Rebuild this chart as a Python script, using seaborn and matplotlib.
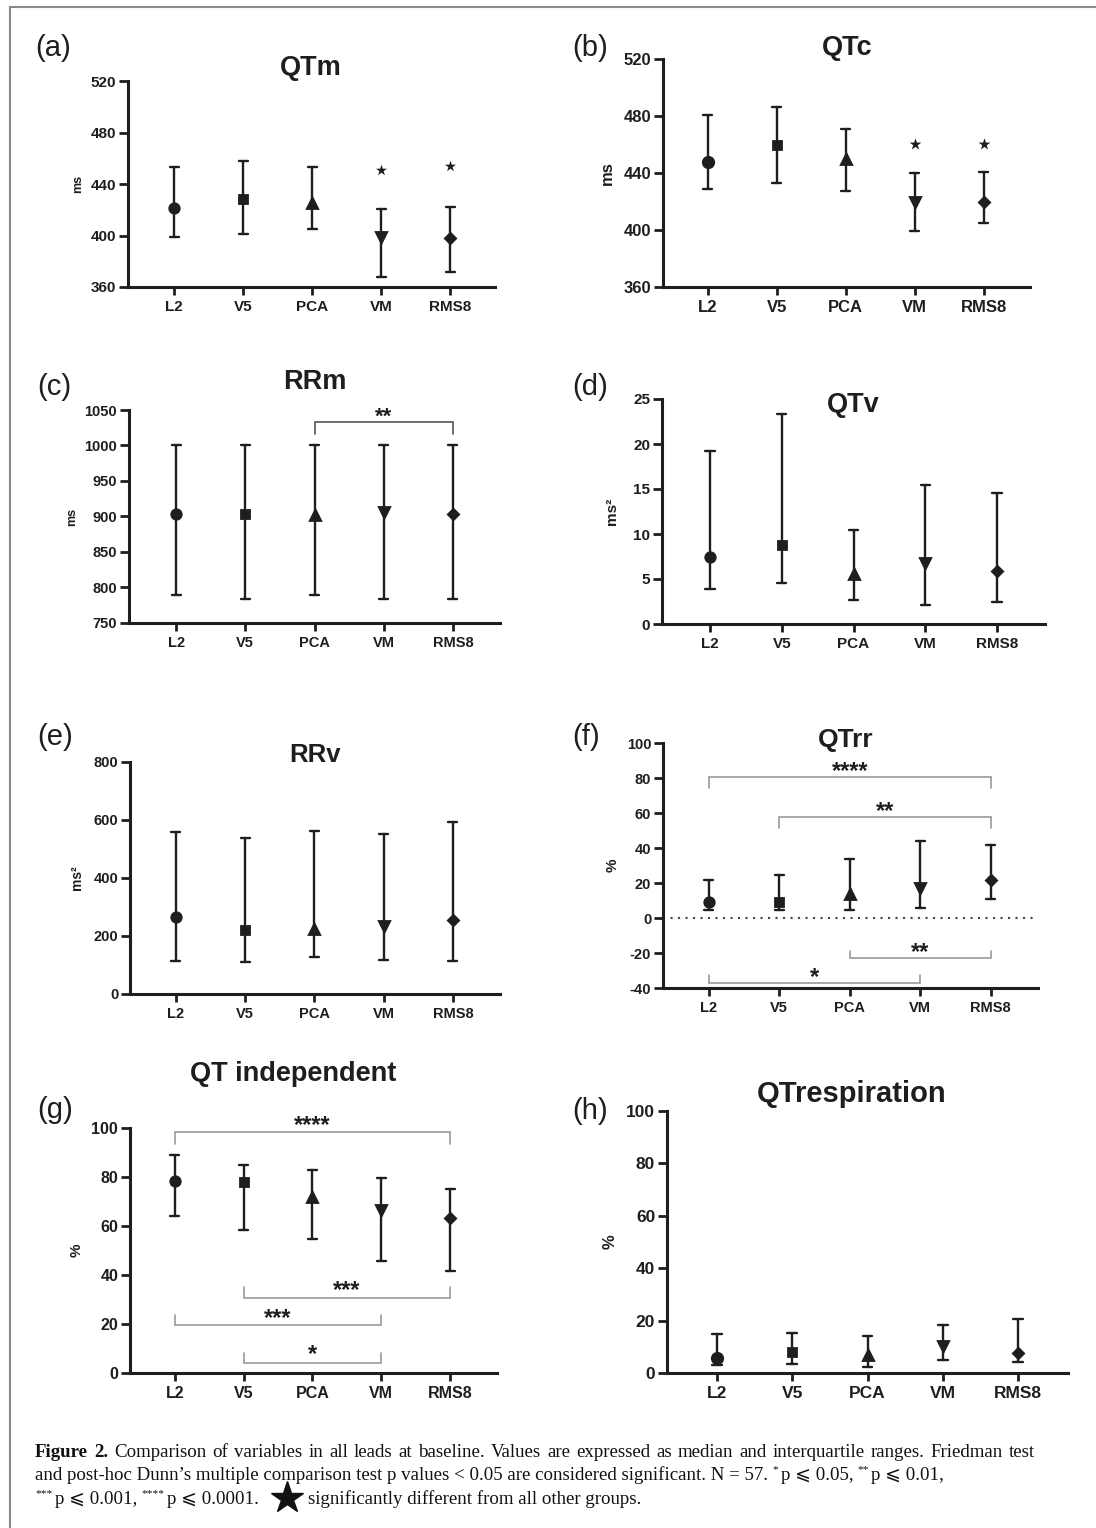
import numpy as np
import pandas as pd
import matplotlib
matplotlib.use("Agg")
import matplotlib.pyplot as plt
from matplotlib.lines import Line2D
import seaborn as sns

# ---------------------------------------------------------------- data
leads = ["L2", "V5", "PCA", "VM", "RMS8"]
lead_markers = ["o", "s", "^", "v", "D"]

qtm_median = [421.5, 428, 425, 398.5, 398]
qtm_q1 = [399, 401.5, 405, 368, 372]
qtm_q3 = [453, 458, 453, 420.5, 422.5]
qtm_star = [451, 454]          # VM, RMS8

qtc_median = [448, 460, 449.5, 419.5, 420]
qtc_q1 = [429, 433, 427.5, 399.5, 405]
qtc_q3 = [480.5, 486.5, 471, 440, 440.5]
qtc_star = [460.5, 460.5]      # VM, RMS8

rrm_median = [904, 903, 902, 906, 904]
rrm_q1 = [789, 784, 790, 784, 784]
rrm_q3 = [1000, 1000, 1000, 1000, 1000]

qtv_median = [7.4, 8.75, 5.6, 6.75, 5.9]
qtv_q1 = [3.9, 4.6, 2.7, 2.1, 2.4]
qtv_q3 = [19.25, 23.3, 10.4, 15.4, 14.6]

rrv_median = [265, 219, 224, 236, 256]
rrv_q1 = [113, 110, 128, 118, 115]
rrv_q3 = [560, 538, 561, 553, 592]

qtrr_median = [9, 9, 14, 17, 21.5]
qtrr_q1 = [4.5, 4.5, 4.5, 5.5, 11]
qtrr_q3 = [22, 24.5, 34, 44, 42]

qtind_median = [78.5, 78, 71.7, 66.5, 63.4]
qtind_q1 = [64.2, 58.4, 54.7, 45.7, 41.8]
qtind_q3 = [88.9, 84.9, 82.9, 79.5, 75]

qtresp_median = [5.7, 7.9, 7.0, 10.4, 7.5]
qtresp_q1 = [3.2, 3.6, 2.3, 4.8, 4.3]
qtresp_q3 = [14.9, 15.2, 14.2, 18.3, 20.8]

# pairwise comparisons: (lead a, lead b, significance)
rrm_pairs = [("PCA", "RMS8", "**")]
qtrr_pairs_top = [("L2", "RMS8", "****"), ("V5", "RMS8", "**")]
qtrr_pairs_bottom = [("PCA", "RMS8", "**"), ("L2", "VM", "*")]
qtind_pairs_top = [("L2", "RMS8", "****")]
qtind_pairs_bottom = [("V5", "RMS8", "***"), ("L2", "VM", "***"), ("V5", "VM", "*")]

# ---------------------------------------------------------------- style
sns.set_style("ticks")
plt.rcParams["font.family"] = ["Liberation Sans", "DejaVu Sans"]
plt.rcParams["axes.unicode_minus"] = False
INK = "#1e1e1e"
GREY = "#9a9a9a"
MARKER_SIZE = {"o": 6.8, "s": 5.8, "^": 6.8, "v": 6.8, "D": 4.6}

W, H = 1096, 1528
fig = plt.figure(figsize=(W / 100, H / 100), dpi=100)
fig.patch.set_facecolor("white")


def fx(x):
    return x / W


def fy(y):
    return 1 - y / H


def rect(left, top, right, bottom):
    return [fx(left), fy(bottom), (right - left) / W, (bottom - top) / H]


def draw_panel(box, xlim, ylim, yticks, med, q1, q3, tick_fs, scale=1.0):
    ax = fig.add_axes(rect(*box))
    df = pd.DataFrame({
        "lead": np.repeat(leads, 3),
        "value": np.column_stack([q1, med, q3]).ravel(),
    })
    sns.pointplot(
        data=df, x="lead", y="value", hue="lead",
        order=leads, hue_order=leads,
        palette=dict.fromkeys(leads, INK), markers=lead_markers,
        linestyles="none", estimator="median", errorbar=("pi", 100),
        capsize=0.13, err_kws={"linewidth": 1.7}, markersize=7,
        legend=False, ax=ax,
    )
    # per-shape marker sizes so the glyphs look equally heavy
    for line in ax.lines:
        m = line.get_marker()
        if isinstance(m, str) and m in MARKER_SIZE:
            line.set_markersize(MARKER_SIZE[m] * scale)
            line.set_zorder(4)
    ax.set_xlim(*xlim)
    ax.set_ylim(*ylim)
    ax.set_yticks(yticks)
    ax.set_xlabel("")
    ax.set_ylabel("")
    for side in ("top", "right"):
        ax.spines[side].set_visible(False)
    for side in ("left", "bottom"):
        ax.spines[side].set_linewidth(2.2)
        ax.spines[side].set_color(INK)
    ax.tick_params(axis="y", direction="out", length=6.5, width=2.0,
                   pad=2, labelsize=tick_fs, colors=INK)
    ax.tick_params(axis="x", direction="out", length=6, width=2.0,
                   pad=3.5, labelsize=tick_fs, colors=INK)
    plt.setp(ax.get_xticklabels() + ax.get_yticklabels(), fontweight="bold")
    ax.set_facecolor("none")
    return ax


def side_label(x, box, text, size):
    yc = (box[1] + box[3]) / 2
    fig.text(fx(x), fy(yc), text, rotation=90, ha="center", va="center",
             fontsize=size, fontweight="bold", color=INK)


def title(x, y, text, size):
    fig.text(fx(x), fy(y), text, ha="center", va="baseline",
             fontsize=size, fontweight="bold", color=INK)


def panel_tag(x, y, text):
    fig.text(fx(x), fy(y), text, ha="left", va="baseline",
             fontsize=21, color=INK)


def bracket(ax, a, b, y, tip, sig, sig_y, color=GREY, size=17):
    xa, xb = leads.index(a), leads.index(b)
    ax.plot([xa, xa, xb, xb], [tip, y, y, tip], color=color, lw=1.2,
            clip_on=False, solid_joinstyle="miter")
    ax.annotate(sig, xy=((xa + xb) / 2, sig_y), xytext=(0, -0.57 * size),
                textcoords="offset points", ha="center", va="baseline",
                fontsize=size, fontweight="bold", color=INK,
                annotation_clip=False)


# ---------------------------------------------------------------- (a) QTm
box_a = (128, 81, 495, 287)
ax = draw_panel(box_a, (-0.67, 4.65), (360, 520), np.arange(360, 521, 40),
                qtm_median, qtm_q1, qtm_q3, 11)
ax.scatter([3, 4], qtm_star, marker="*", s=70, color=INK, linewidths=0,
           zorder=5)
side_label(78, box_a, "ms", 9)
title(311, 75, "QTm", 19.5)
panel_tag(35, 56, "(a)")

# ---------------------------------------------------------------- (b) QTc
box_b = (663, 59, 1030, 287)
ax = draw_panel(box_b, (-0.65, 4.67), (360, 520), np.arange(360, 521, 40),
                qtc_median, qtc_q1, qtc_q3, 12, scale=1.1)
ax.scatter([3, 4], qtc_star, marker="*", s=80, color=INK, linewidths=0,
           zorder=5)
side_label(607, box_b, "ms", 12)
title(847, 55, "QTc", 19.5)
panel_tag(572, 56, "(b)")

# ---------------------------------------------------------------- (c) RRm
box_c = (129, 410, 500, 623)
ax = draw_panel(box_c, (-0.68, 4.68), (750, 1050), np.arange(750, 1051, 50),
                rrm_median, rrm_q1, rrm_q3, 10.5)
for a, b, sig in rrm_pairs:
    bracket(ax, a, b, 1033, 1016, sig, 1050, color="#555555", size=16)
side_label(72, box_c, "ms", 9)
title(315, 389, "RRm", 19.5)
panel_tag(37, 395, "(c)")

# ---------------------------------------------------------------- (d) QTv
box_d = (662, 399, 1045, 624)
ax = draw_panel(box_d, (-0.67, 4.67), (0, 25), np.arange(0, 26, 5),
                qtv_median, qtv_q1, qtv_q3, 11)
side_label(612, box_d, "ms²", 11)
title(853, 412, "QTv", 19.5)
panel_tag(572, 395, "(d)")

# ---------------------------------------------------------------- (e) RRv
box_e = (130, 762, 500, 994)
ax = draw_panel(box_e, (-0.66, 4.68), (0, 800), np.arange(0, 801, 200),
                rrv_median, rrv_q1, rrv_q3, 10.5)
side_label(77, box_e, "ms²", 10)
title(315, 762, "RRv", 18.5)
panel_tag(37, 745, "(e)")

# ---------------------------------------------------------------- (f) QTrr
box_f = (663, 743, 1038, 988)
ax = draw_panel(box_f, (-0.65, 4.67), (-40, 100), np.arange(-40, 101, 20),
                qtrr_median, qtrr_q1, qtrr_q3, 10.5)
ax.axhline(0, color="#444444", lw=1.5, ls=(0, (1, 2.6)), zorder=0)
(a1, b1, s1), (a2, b2, s2) = qtrr_pairs_top
bracket(ax, a1, b1, 80.6, 74.3, s1, 87.4)
bracket(ax, a2, b2, 57.7, 51.4, s2, 65.1)
(a3, b3, s3), (a4, b4, s4) = qtrr_pairs_bottom
bracket(ax, a3, b3, -22.9, -18.9, s3, -16)
bracket(ax, a4, b4, -37.3, -32.6, s4, -30.3)
side_label(613, box_f, "%", 11)
title(846, 747, "QTrr", 19)
panel_tag(572, 745, "(f)")

# ---------------------------------------------------------------- (g) QT independent
box_g = (130, 1128, 497, 1373)
ax = draw_panel(box_g, (-0.65, 4.68), (0, 100), np.arange(0, 101, 20),
                qtind_median, qtind_q1, qtind_q3, 11.5)
(a1, b1, s1), = qtind_pairs_top
bracket(ax, a1, b1, 98.5, 93.5, s1, 104)
(a2, b2, s2), (a3, b3, s3), (a4, b4, s4) = qtind_pairs_bottom
bracket(ax, a2, b2, 30.6, 35.1, s2, 36.7)
bracket(ax, a3, b3, 19.6, 23.7, s3, 24.9)
bracket(ax, a4, b4, 4.1, 8.2, s4, 10.2)
side_label(77, box_g, "%", 11)
title(293, 1081, "QT independent", 19.5)
panel_tag(37, 1118, "(g)")

# ---------------------------------------------------------------- (h) QTrespiration
box_h = (667, 1111, 1068, 1373)
ax = draw_panel(box_h, (-0.66, 4.66), (0, 100), np.arange(0, 101, 20),
                qtresp_median, qtresp_q1, qtresp_q3, 12.5, scale=1.1)
side_label(610, box_h, "%", 12)
title(852, 1102, "QTrespiration", 21)
panel_tag(572, 1119, "(h)")

# ---------------------------------------------------------------- frame
fig.add_artist(Line2D([fx(10), fx(W)], [fy(7), fy(7)], color="#8a8a8a",
                      lw=1.5, transform=fig.transFigure))
fig.add_artist(Line2D([fx(10), fx(10)], [fy(7), fy(H)], color="#8a8a8a",
                      lw=1.5, transform=fig.transFigure))

# ---------------------------------------------------------------- caption
SERIF = ["Liberation Serif", "DejaVu Serif", "DejaVu Sans"]
renderer = fig.canvas.get_renderer()
cap_size = 13.6


def cap_text(x, y, text, style="regular", size=cap_size):
    kw = dict(family=SERIF, color="#111111", va="baseline", ha="left")
    fs = size
    if style == "bold":
        kw["fontweight"] = "bold"
    elif style == "sup":
        fs = size * 0.6
        y -= size * 0.55
    t = fig.text(fx(x), fy(y), text, fontsize=fs, **kw)
    return t.get_window_extent(renderer=renderer).width


def justified_line(x0, x1, y, words):
    """Spread (word, style) pieces evenly between x0 and x1."""
    texts = []
    widths = []
    for w, style in words:
        kw = dict(family=SERIF, color="#111111", va="baseline", ha="left",
                  fontsize=cap_size)
        if style == "bold":
            kw["fontweight"] = "bold"
        t = fig.text(fx(x0), fy(y), w, **kw)
        texts.append(t)
        widths.append(t.get_window_extent(renderer=renderer).width)
    gap = (x1 - x0 - sum(widths)) / (len(words) - 1)
    x = x0
    for t, wdt in zip(texts, widths):
        t.set_x(fx(x))
        x += wdt + gap


def rich_line(x0, y0, segments):
    """Draw a line of mixed-style text pieces left to right."""
    x = x0
    for seg in segments:
        text, style = seg[0], seg[1]
        gap = seg[2] if len(seg) > 2 else 0.0
        x += gap * cap_size
        if style == "star":
            # solid star symbol used as the key for the per-panel stars
            fig.add_artist(Line2D([fx(x + 16)], [fy(y0 - 6)], marker="*",
                                  markersize=24, color="#111111", lw=0,
                                  transform=fig.transFigure))
            x += 32
        else:
            x += cap_text(x, y0, text, style)
    return x


line1_words = [("Figure", "bold"), ("2.", "bold")] + [
    (w, "regular") for w in
    ("Comparison of variables in all leads at baseline. Values are "
     "expressed as median and interquartile ranges. Friedman test").split(" ")]
line2 = [("and post-hoc Dunn’s multiple comparison test p values < 0.05 "
          "are considered significant. N = 57.", "regular"),
         ("*", "sup", 0.3),
         ("p ⩽ 0.05,", "regular", 0.2),
         ("**", "sup", 0.3),
         ("p ⩽ 0.01,", "regular", 0.2)]
line3 = [("***", "sup"),
         ("p ⩽ 0.001,", "regular", 0.2),
         ("****", "sup", 0.3),
         ("p ⩽ 0.0001.", "regular", 0.2),
         ("", "star", 0.9),
         ("significantly different from all other groups.", "regular", 0.35)]
justified_line(35, 1035, 1457, line1_words)
rich_line(35, 1480, line2)
rich_line(35, 1504, line3)

fig.savefig("out.png", dpi=100, facecolor="white")
